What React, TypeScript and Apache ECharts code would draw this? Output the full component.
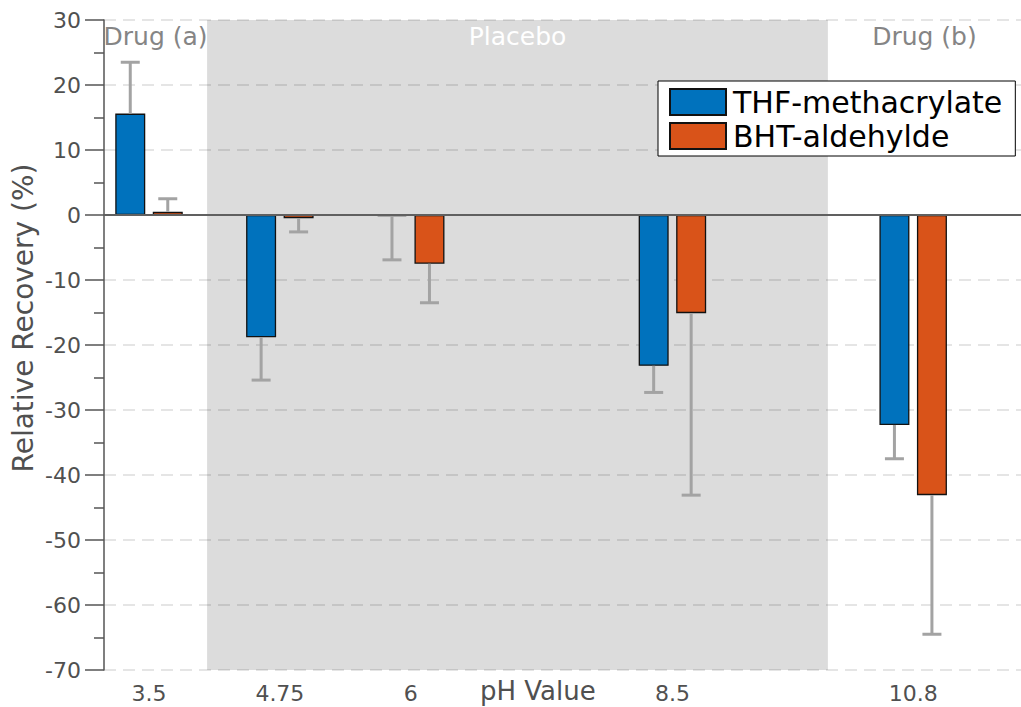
import React, { useEffect, useRef } from "react";
import * as echarts from "echarts";

// ---- data ----
const phValues = [3.5, 4.75, 6, 8.5, 10.8];
const thfValues = [15.6, -18.8, -0.2, -23.2, -32.3];
const thfErrors = [7.9, 6.6, 6.7, 4.1, 5.2];
const bhtValues = [0.5, -0.5, -7.5, -15.1, -43.1];
const bhtErrors = [2.0, 2.1, 6.0, 28.0, 21.4];
const seriesNames = ["THF-methacrylate", "BHT-aldehylde"];
const xTickValues = [3.5, 4.75, 6, 8.5, 10.8];
const regionBounds = [3.07, 4.055, 9.985, 11.83];
const regionLabels = ["Drug (a)", "Placebo", "Drug (b)"];
const yMin = -70;
const yMax = 30;
const yStep = 10;

const FONT = "DejaVu Sans";
const BAR_W = 30;
const BAR_GAP = 7.5;

function errorSeries(name: string, values: number[], errs: number[], side: number) {
  return {
    type: "custom",
    name: name + " err",
    z: 3,
    silent: true,
    data: phValues.map((x, i) => [x, values[i], errs[i]]),
    renderItem: (_params: any, api: any) => {
      const x = api.value(0);
      const v = api.value(1);
      const e = api.value(2);
      const end = v >= 0 ? v + e : v - e;
      const p0 = api.coord([x, v]);
      const p1 = api.coord([x, end]);
      const cx = p0[0] + side * (BAR_W + BAR_GAP) / 2;
      const st = { stroke: "#a3a3a3", lineWidth: 3 };
      return {
        type: "group",
        children: [
          { type: "line", shape: { x1: cx, y1: p0[1], x2: cx, y2: p1[1] }, style: st },
          { type: "line", shape: { x1: cx - 9.5, y1: p1[1], x2: cx + 9.5, y2: p1[1] }, style: st },
        ],
      };
    },
  };
}

export default function App() {
  const ref = useRef<HTMLDivElement>(null);
  useEffect(() => {
    if (!ref.current) return;
    const chart = echarts.init(ref.current, undefined, { renderer: "svg" });
    const option: any = {
      animation: false,
      textStyle: { fontFamily: FONT },
      grid: { left: 104, right: 0, top: 20, bottom: 37, containLabel: false },
      legend: {
        data: seriesNames,
        orient: "vertical",
        left: 658,
        top: 81,
        itemWidth: 56,
        itemHeight: 26,
        itemGap: 4,
        padding: [6, 13, 5, 11],
        backgroundColor: "#ffffff",
        borderColor: "#000000",
        borderWidth: 1,
        borderRadius: 0,
        icon: "rect",
        textStyle: { fontFamily: FONT, fontSize: 30, lineHeight: 26, color: "#000000", padding: [0, 0, 0, 2] },
      },
      xAxis: {
        type: "value",
        min: regionBounds[0],
        max: regionBounds[3],
        axisLine: { show: false },
        axisTick: { show: false },
        splitLine: { show: false },
        axisLabel: {
          customValues: xTickValues,
          fontFamily: FONT,
          fontSize: 22,
          color: "#505050",
          margin: 12,
        },
      },
      yAxis: {
        type: "value",
        min: yMin,
        max: yMax,
        interval: yStep,
        axisLine: { show: true, lineStyle: { color: "#555555", width: 1.5 } },
        axisTick: { show: true, length: 19, lineStyle: { color: "#555555", width: 1.5 } },
        minorTick: { show: true, splitNumber: 2, length: 10, lineStyle: { color: "#555555", width: 1.5 } },
        axisLabel: { fontFamily: FONT, fontSize: 22, color: "#505050", margin: 23 },
        splitLine: { show: true, lineStyle: { color: "rgba(0,0,0,0.1)", width: 2, type: [12, 7] } },
      },
      graphic: [
        {
          type: "text",
          left: 480,
          top: 678,
          style: { text: "pH Value", fontFamily: FONT, fontSize: 26, fill: "#505050" },
        },
        {
          type: "text",
          x: 23,
          y: 318,
          rotation: Math.PI / 2,
          style: {
            text: "Relative Recovery (%)",
            fontFamily: FONT,
            fontSize: 28,
            fill: "#505050",
            align: "center",
            verticalAlign: "middle",
          },
        },
      ],
      series: [
        {
          type: "bar",
          name: seriesNames[0],
          data: phValues.map((x, i) => [x, thfValues[i]]),
          barWidth: BAR_W,
          barGap: (BAR_GAP / BAR_W) * 100 + "%",
          itemStyle: { color: "#0072BD", borderColor: "#111111", borderWidth: 1.3 },
          markLine: {
            silent: true,
            symbol: ["none", "none"],
            label: { show: false },
            lineStyle: { color: "#606060", width: 2, type: "solid" },
            data: [{ yAxis: 0 }],
          },
          markArea: {
            silent: true,
            z: -1,
            data: regionLabels.map((lab, i) => [
              {
                xAxis: regionBounds[i],
                itemStyle: { color: i === 1 ? "#dcdcdc" : "rgba(0,0,0,0)" },
                label: {
                  show: true,
                  position: "insideTop",
                  distance: 4,
                  formatter: lab,
                  fontFamily: FONT,
                  fontSize: 25,
                  color: i === 1 ? "#ffffff" : "#858585",
                },
              },
              { xAxis: regionBounds[i + 1] },
            ]),
          },
        },
        {
          type: "bar",
          name: seriesNames[1],
          data: phValues.map((x, i) => [x, bhtValues[i]]),
          barWidth: BAR_W,
          barGap: (BAR_GAP / BAR_W) * 100 + "%",
          itemStyle: { color: "#D95319", borderColor: "#111111", borderWidth: 1.3 },
        },
        errorSeries(seriesNames[0], thfValues, thfErrors, -1),
        errorSeries(seriesNames[1], bhtValues, bhtErrors, 1),
      ],
    };
    chart.setOption(option);
    return () => chart.dispose();
  }, []);
  return (
    <div
      ref={ref}
      style={{ position: "absolute", left: 0, top: 0, width: 1021, height: 707, background: "#ffffff" }}
    />
  );
}
